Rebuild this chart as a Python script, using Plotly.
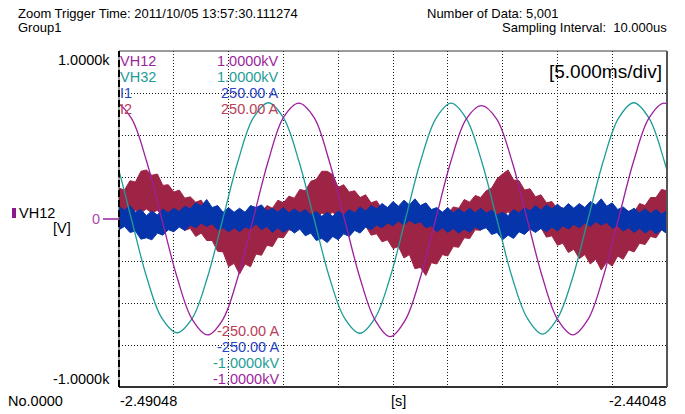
import plotly.graph_objects as go

T0 = -2.49048
T1 = -2.44048

# ---- VH12 voltage [V], times in ms after T0 ----
vh12_t_ms = [-1.66, -0.27, 1.12, 2.51, 3.90, 5.29, 6.68, 8.07, 9.46, 10.85, 12.24, 13.62,
             15.01, 16.40, 17.79, 19.18, 20.57, 21.96, 23.35, 24.74, 26.13, 27.51, 28.90,
             30.29, 31.68, 33.07, 34.46, 35.85, 37.24, 38.63, 40.02, 41.41, 42.79, 44.18,
             45.57, 46.96, 48.35, 49.74, 51.13]
vh12_v = [598, 690, 600, 345, 0, -345, -598, -690, -600, -345, 0, 345,
          605, 690, 605, 345, 0, -345, -600, -700, -600, -345, 0,
          345, 595, 675, 595, 345, 0, -345, -598, -690, -598, -345,
          0, 345, 600, 690, 600]

# ---- VH32 voltage [V] ----
vh32_t_ms = [-1.65, -0.26, 1.13, 2.52, 3.91, 5.30, 6.69, 8.08, 9.47, 10.86, 12.24, 13.63,
             15.02, 16.41, 17.80, 19.19, 20.58, 21.97, 23.36, 24.75, 26.14, 27.52, 28.91,
             30.30, 31.69, 33.08, 34.47, 35.86, 37.25, 38.64, 40.02, 41.41, 42.80, 44.19,
             45.58, 46.97, 48.36, 49.75, 51.14]
vh32_v = [598, 345, 0, -345, -590, -677, -590, -345, 0, 345, 600, 692,
          600, 345, 0, -345, -590, -680, -590, -345, 0, 345, 598,
          690, 598, 345, 0, -345, -590, -685, -590, -345, 0, 345,
          600, 692, 600, 345, 0]

# ---- current bands, sampled every 0.5 ms (upper / lower envelope of the noise) ----
band_t_ms = [0, 0.5, 1, 1.5, 2, 2.5, 3, 3.5, 4, 4.5, 5, 5.5, 6, 6.5, 7, 7.5, 8, 8.5, 9, 9.5,
             10, 10.5, 11, 11.5, 12, 12.5, 13, 13.5, 14, 14.5, 15, 15.5, 16, 16.5, 17, 17.5,
             18, 18.5, 19, 19.5, 20, 20.5, 21, 21.5, 22, 22.5, 23, 23.5, 24, 24.5, 25, 25.5,
             26, 26.5, 27, 27.5, 28, 28.5, 29, 29.5, 30, 30.5, 31, 31.5, 32, 32.5, 33, 33.5,
             34, 34.5, 35, 35.5, 36, 36.5, 37, 37.5, 38, 38.5, 39, 39.5, 40, 40.5, 41, 41.5,
             42, 42.5, 43, 43.5, 44, 44.5, 45, 45.5, 46, 46.5, 47, 47.5, 48, 48.5, 49, 49.5, 50]

# I2 [A]
i2_hi = [46, 43, 57, 55, 71, 73, 65, 67, 50, 51, 40, 43, 31, 33, 25, 28, 15, 15, 5, 8,
         -1, 4, 0, 5, -2, 9, 9, 20, 16, 28, 24, 34, 31, 44, 42, 56,
         59, 71, 71, 66, 47, 51, 40, 42, 32, 36, 24, 27, 15, 16, 7, 8,
         -1, 2, -4, 2, -4, 3, 0, 10, 7, 18, 16, 29, 25, 35, 32, 42,
         46, 60, 67, 73, 58, 57, 43, 45, 33, 36, 24, 26, 15, 17, 6, 7,
         0, 4, -2, 2, -4, 1, -3, 5, 0, 12, 10, 23, 20, 32, 32, 44, 42]
i2_lo = [-4, 7, 4, 13, 9, 15, 9, 13, 3, 5, -5, -4, -17, -14, -26, -21, -32, -32, -48, -49,
         -71, -66, -82, -67, -71, -52, -54, -39, -41, -27, -28, -16, -18, -6, -8, 3,
         0, 9, 5, 10, 2, 6, -4, 0, -11, -10, -24, -22, -34, -31, -44, -41,
         -58, -53, -74, -72, -84, -65, -67, -53, -55, -41, -42, -28, -29, -16, -17, -4,
         -7, 5, 3, 11, 1, 5, -6, -4, -16, -13, -27, -25, -39, -36, -50, -45,
         -59, -53, -67, -60, -76, -64, -70, -55, -60, -46, -49, -36, -38, -26, -28, -16, -17]

# I1 [A]
i1_hi = [19, 13, 20, 10, 14, 5, 12, 6, 15, 9, 16, 11, 19, 15, 24, 19, 29, 17, 20, 10,
         17, 10, 16, 10, 20, 17, 21, 12, 16, 10, 17, 9, 15, 9, 14, 6,
         11, 4, 10, 4, 12, 6, 14, 9, 18, 12, 20, 15, 23, 17, 26, 19,
         28, 21, 30, 20, 24, 14, 17, 10, 17, 9, 15, 9, 16, 9, 16, 9,
         13, 6, 10, 5, 14, 9, 17, 12, 20, 13, 21, 15, 22, 15, 23, 16,
         23, 17, 26, 21, 30, 19, 24, 14, 18, 11, 16, 9, 15, 8, 14, 7, 13]
i1_lo = [-16, -11, -20, -18, -30, -28, -31, -21, -24, -16, -19, -12, -17, -9, -13, -6, -11, -7, -16, -13,
         -19, -13, -19, -12, -15, -7, -16, -11, -20, -13, -20, -14, -21, -15, -25, -21,
         -32, -29, -35, -26, -31, -22, -26, -17, -21, -12, -16, -9, -13, -6, -10, -3,
         -9, -2, -7, -4, -13, -10, -19, -13, -20, -14, -21, -15, -20, -12, -16, -13,
         -23, -20, -31, -24, -29, -19, -23, -15, -20, -14, -19, -12, -18, -10, -15, -8,
         -13, -6, -11, -4, -9, -5, -14, -10, -18, -13, -20, -14, -21, -15, -22, -16, -22]

C_VH12 = "#9C1F9C"
C_VH32 = "#1E9C96"
C_I1 = "#0634AA"
C_I2 = "#9E2446"
T_I1 = "#2846C4"
T_I2 = "#B8405A"


def sec(ms):
    return [T0 + m / 1000.0 for m in ms]


fig = go.Figure()
# I2 band
fig.add_trace(go.Scatter(x=sec(band_t_ms), y=i2_hi, mode="lines", line=dict(color=C_I2, width=1),
                         yaxis="y", hoverinfo="skip"))
fig.add_trace(go.Scatter(x=sec(band_t_ms), y=i2_lo, mode="lines", line=dict(color=C_I2, width=1),
                         fill="tonexty", fillcolor=C_I2, yaxis="y", hoverinfo="skip"))
# I1 band
fig.add_trace(go.Scatter(x=sec(band_t_ms), y=i1_hi, mode="lines", line=dict(color=C_I1, width=1),
                         yaxis="y", hoverinfo="skip"))
fig.add_trace(go.Scatter(x=sec(band_t_ms), y=i1_lo, mode="lines", line=dict(color=C_I1, width=1),
                         fill="tonexty", fillcolor=C_I1, yaxis="y", hoverinfo="skip"))
# voltages
fig.add_trace(go.Scatter(x=sec(vh32_t_ms), y=vh32_v, mode="lines",
                         line=dict(color=C_VH32, width=1.3, shape="spline", smoothing=1.0),
                         yaxis="y2"))
fig.add_trace(go.Scatter(x=sec(vh12_t_ms), y=vh12_v, mode="lines",
                         line=dict(color=C_VH12, width=1.3, shape="spline", smoothing=1.0),
                         yaxis="y2"))

GRID = dict(showgrid=True, gridcolor="#1a1a1a", gridwidth=1, griddash="1px,2px",
            showticklabels=False, ticks="", zeroline=False, showline=False)

FONT = "Liberation Sans, Arial, sans-serif"

fig.update_layout(
    width=685, height=414,
    margin=dict(l=119, r=18, t=51, b=27),
    paper_bgcolor="white", plot_bgcolor="white",
    showlegend=False,
    font=dict(family=FONT, size=14, color="black"),
    xaxis=dict(range=[T0, T1], tick0=T0, dtick=0.005, **GRID),
    yaxis=dict(range=[-250, 250], tick0=0, dtick=62.5, **GRID),
    yaxis2=dict(range=[-1000, 1000], overlaying="y", showgrid=False, showticklabels=False,
                ticks="", zeroline=False, showline=False),
)


def px(x):
    return (x - 119) / 548.0


def py(y):
    return (387 - y) / 336.0


def ann(text, x, y, anchor="left", color="black", size=14.5):
    fig.add_annotation(text=text, x=px(x), y=py(y), xref="paper", yref="paper",
                       xanchor=anchor, yanchor="middle", showarrow=False,
                       font=dict(family=FONT, size=size, color=color))


# header
ann("Zoom Trigger Time: 2011/10/05 13:57:30.111274", 16, 14, size=13)
ann("Group1", 16, 27, size=13)
ann("Number of Data: 5,001", 425, 14, size=13)
ann("Sampling Interval:\u00a0\u00a010.000us", 669, 27, anchor="right", size=13)

# y axis texts
ann("1.0000k", 112, 60, anchor="right")
ann("0", 102, 219, anchor="right", color="#B048A8")
ann("-1.0000k", 112, 379, anchor="right")
ann("VH12", 17, 213)
ann("[V]", 51, 228)

# x axis texts
ann("No.0000", 6, 401)
ann("-2.49048", 118, 401)
ann("[s]", 398, 401, anchor="center")
ann("-2.44048", 668, 401, anchor="right")

ann("[5.000ms/div]", 664, 71, anchor="right", size=19)

# channel scale labels
top_labels = [("VH12", "1.0000kV", C_VH12), ("VH32", "1.0000kV", C_VH32),
              ("I1", "250.00 A", T_I1), ("I2", "250.00 A", T_I2)]
for i, (name, val, col) in enumerate(top_labels):
    yy = 61 + 16 * i
    ann(name, 118, yy, color=col)
    ann(val, 281, yy, anchor="right", color=col)

bottom_labels = [("-250.00 A", T_I2), ("-250.00 A", T_I1),
                 ("-1.0000kV", C_VH32), ("-1.0000kV", C_VH12)]
for i, (val, col) in enumerate(bottom_labels):
    ann(val, 281, 331 + 16 * i, anchor="right", color=col)

# frame and markers
fig.add_shape(type="rect", xref="paper", yref="paper", x0=0, x1=1, y0=0, y1=1,
              line=dict(color="#3a3a3a", width=1))
fig.add_shape(type="line", xref="paper", yref="paper", x0=0, x1=1, y0=0, y1=0,
              line=dict(color="#333333", width=2))
fig.add_shape(type="line", xref="paper", yref="paper", x0=1, x1=1, y0=0, y1=1,
              line=dict(color="#555555", width=2))
fig.add_shape(type="line", xref="paper", yref="paper", x0=0, x1=0, y0=0, y1=1,
              line=dict(color="black", width=2, dash="7px,3px"))
fig.add_shape(type="line", xref="paper", yref="paper", x0=px(103), x1=0, y0=0.5, y1=0.5,
              line=dict(color=C_VH12, width=1.5))
fig.add_shape(type="rect", xref="paper", yref="paper", x0=px(12), x1=px(16),
              y0=py(218), y1=py(208), line=dict(width=0), fillcolor="#8A1A8A")

fig.write_html("out.html", config={"displayModeBar": False},
               post_script="document.body.style.margin='0';")
